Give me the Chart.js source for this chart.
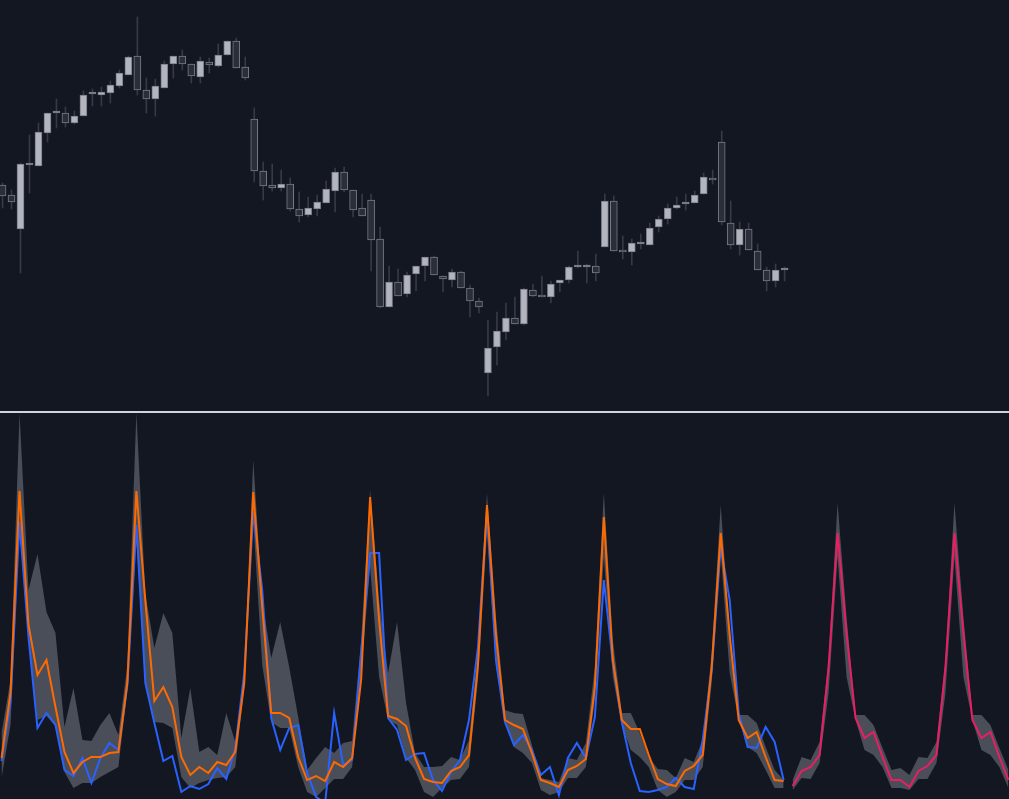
<!DOCTYPE html>
<html>
<head>
<meta charset="utf-8">
<title>Price and seasonal forecast</title>
<script src="https://cdn.jsdelivr.net/npm/chart.js@4.4.1/dist/chart.umd.min.js"></script>
<style>
  html, body { margin: 0; padding: 0; background: #131722; overflow: hidden; }
  #wrap { position: relative; width: 1009px; height: 799px; }
  #priceChart { position: absolute; left: 0; top: 0; }
  #divider { position: absolute; left: 0; top: 411px; width: 1009px; height: 2px; background: #d1d4dc; }
  #seasonChart { position: absolute; left: 0; top: 413px; }
</style>
</head>
<body>
<div id="wrap">
  <canvas id="priceChart" width="1009" height="411"></canvas>
  <div id="divider"></div>
  <canvas id="seasonChart" width="1009" height="386"></canvas>
</div>
<script>
// candles, one per bar (no axis labels on the original, values in chart units)
const candleOpen  = [226,216,182,246,245,278,298,298,288,295,317,316,318,325,336,355,321,312,323,347,355,347,334,349,345,356,370,344,
                     292,240,226,223,227,202,196,202,208,220,239,221,203,211,172,104,129,117,137,145,154,135,131,139,123,110,38,64,79,93,
                     87,121,116,114,128,131,144,144,145,164,210,161,159,167,166,184,192,203,207,208,217,233,269,188,166,182,160,141,130,141];
const candleHigh  = [228,221,248,276,288,298,312,304,300,320,322,324,330,341,355,394,333,332,350,355,361,347,354,353,367,370,373,354,
                     303,249,247,241,233,219,214,216,230,243,244,221,217,217,184,145,142,139,145,154,155,135,142,140,126,113,91,99,108,114,
                     123,127,135,130,131,145,160,147,157,217,215,175,172,177,188,195,207,214,217,220,238,241,280,210,189,188,167,144,147,144];
const candleLow   = [203,202,138,218,245,269,283,284,287,295,305,305,308,323,336,316,298,295,323,333,341,328,328,338,344,356,343,331,
                     229,211,220,220,200,189,194,195,208,199,219,194,195,140,103,104,115,114,120,130,136,119,124,123,94,98,15,46,71,87,
                     86,114,114,108,119,128,143,128,130,164,160,152,146,162,166,179,187,202,201,208,217,227,186,162,156,161,141,120,124,130];
const candleClose = [215,209,247,246,279,298,298,288,295,316,317,319,326,338,354,321,312,325,347,355,347,335,350,346,356,370,343,333,
                     240,225,223,227,202,195,203,209,222,239,221,201,195,171,104,129,115,136,145,154,136,132,139,123,110,104,63,80,93,87,
                     122,115,114,127,131,144,144,144,138,210,160,159,168,167,183,192,203,206,207,216,234,231,189,166,182,161,141,130,141,141];

// lower pane: seasonal range, fitted path (orange) and actual path (blue)
const bandUpper = [66,119,386,209,245,187,166,72,111,59,58,74,86,64,134,386,205,151,186,166,61,111,47,52,44,86,57,122,
                   339,199,141,177,132,82,29,41,52,46,56,58,159,309,199,126,177,96,46,32,32,33,42,39,59,149,306,182,89,86,
                   85,54,21,19,17,41,39,56,132,306,159,86,86,66,42,30,29,21,41,37,59,146,294,166,84,84,76,52,29,19];
const bandLower = [21,74,269,159,79,83,73,27,11,16,16,22,27,32,109,259,116,77,76,71,22,11,16,19,21,22,32,112,
                   279,134,77,71,71,32,7,2,11,20,20,32,126,232,122,79,74,41,29,7,2,11,19,20,32,119,266,132,76,52,
                   46,36,9,4,7,21,21,32,99,242,122,74,49,42,32,9,2,7,19,19,32,116,246,126,79,52,46,29,11,11];
const fitted    = [41,106,308,174,124,139,92,47,26,37,42,42,46,47,117,308,198,98,112,92,42,24,32,26,37,34,47,116,
                   307,192,86,86,81,42,19,23,18,37,32,41,119,302,179,83,80,73,41,20,17,16,28,32,44,134,294,164,79,74,
                   70,46,19,16,12,29,33,40,112,282,139,79,70,70,44,20,15,13,28,33,44,132,266,164,79,61,67,42,19,18];
const actual    = [38,97,277,162,71,86,74,29,23,41,16,41,56,49,114,274,116,76,38,43,7,13,10,15,31,20,51,126,
                   287,209,81,49,71,74,26,2,-4,86,34,39,146,246,246,81,69,39,45,46,19,8,27,39,79,152,289,139,77,54,
                   64,49,24,32,4,41,56,41,82,219,136,77,36,8,7,9,12,21,12,10,59,129,252,199,86,52,51,72,57,19];

// projection after the last bar
const forecastStart = 88;
const forecast      = [13,28,32,44,132,266,166,81,61,67,42,19,19,12,28,33,44,132,266,166,79,61,67,42,19];
const forecastUpper = [19,42,39,57,139,296,182,84,84,74,51,29,31,24,42,41,57,139,296,182,84,84,74,51,29];
const forecastLower = [9,21,20,36,106,242,122,79,49,44,32,11,11,9,20,20,36,106,242,122,79,49,44,32,11];

const UP_FILL = '#b2b5be';
const DOWN_FILL = '#2a2e39';
const CANDLE_EDGE = '#787b86';
const WICK = '#363a45';
const BAND = '#4a4e59';

const points = (arr, start = 0) => arr.map((v, i) => ({ x: start + i, y: v }));

function paneOptions(xMin, xMax, yMax) {
  return {
    responsive: false,
    animation: false,
    devicePixelRatio: 1,
    layout: { padding: 0 },
    plugins: { legend: { display: false }, tooltip: { enabled: false } },
    scales: {
      x: { type: 'linear', min: xMin, max: xMax, offset: false, display: false },
      y: { type: 'linear', min: 0, max: yMax, display: false }
    }
  };
}

new Chart(document.getElementById('priceChart'), {
  type: 'bar',
  data: {
    datasets: [
      {
        label: 'Body',
        order: 0,
        grouped: false,
        barThickness: 7,
        minBarLength: 2,
        borderWidth: 1,
        borderSkipped: false,
        borderColor: CANDLE_EDGE,
        backgroundColor: candleOpen.map((o, i) => candleClose[i] >= o ? UP_FILL : DOWN_FILL),
        data: candleOpen.map((o, i) => ({ x: i, y: [Math.min(o, candleClose[i]), Math.max(o, candleClose[i])] }))
      },
      {
        label: 'Wick',
        order: 1,
        grouped: false,
        barThickness: 1,
        borderWidth: 0,
        backgroundColor: WICK,
        data: candleLow.map((l, i) => ({ x: i, y: [l, candleHigh[i]] }))
      }
    ]
  },
  options: paneOptions(-0.28, 111.96, 411)
});

const seasonOpts = paneOptions(-0.17, 112.07, 386);
seasonOpts.elements = { point: { radius: 0 }, line: { borderWidth: 2, tension: 0 } };

new Chart(document.getElementById('seasonChart'), {
  type: 'line',
  data: {
    datasets: [
      { label: 'Fitted', order: 0, data: points(fitted), borderColor: '#ff6a00', fill: false },
      { label: 'Forecast', order: 0, data: points(forecast, forecastStart), borderColor: '#e91e63', fill: false },
      { label: 'Actual', order: 1, data: points(actual), borderColor: '#2962ff', fill: false },
      { label: 'Range high', order: 2, data: points(bandUpper), fill: '+1', backgroundColor: BAND, borderColor: 'transparent', borderWidth: 0 },
      { label: 'Range low', order: 2, data: points(bandLower), fill: false, borderColor: 'transparent', borderWidth: 0 },
      { label: 'Forecast high', order: 2, data: points(forecastUpper, forecastStart), fill: '+1', backgroundColor: BAND, borderColor: 'transparent', borderWidth: 0 },
      { label: 'Forecast low', order: 2, data: points(forecastLower, forecastStart), fill: false, borderColor: 'transparent', borderWidth: 0 }
    ]
  },
  options: seasonOpts
});
</script>
</body>
</html>
